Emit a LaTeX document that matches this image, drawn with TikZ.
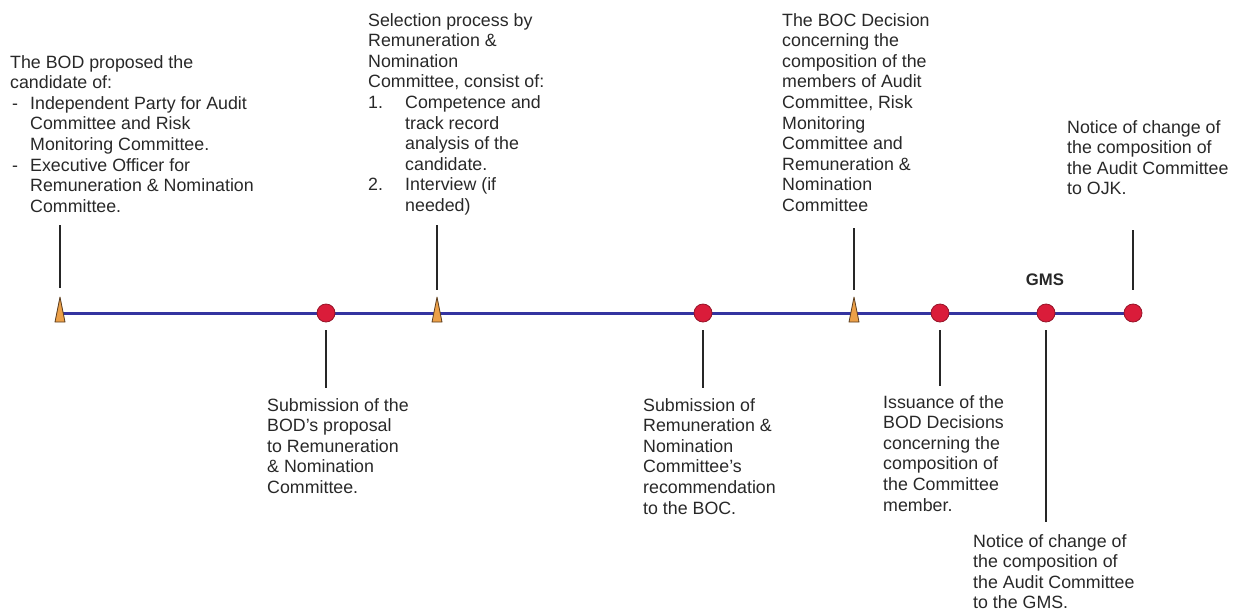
\documentclass[tikz,border=0pt]{standalone}
\usepackage{fontspec}
\setmainfont{Liberation Sans}
\usetikzlibrary{positioning}
\definecolor{cLine}{RGB}{52,52,160}
\definecolor{cText}{RGB}{40,40,40}
\definecolor{cDot}{RGB}{218,28,58}
\definecolor{cDotB}{RGB}{150,20,40}
\definecolor{cTri}{RGB}{236,160,72}
\definecolor{cTriB}{RGB}{90,60,30}
\newcommand\notefont{\fontsize{17.8}{20.6}\selectfont}
\newcommand\notelines[1]{\begin{tabular}[t]{@{}l@{}}#1\end{tabular}}

\begin{document}
\begin{tikzpicture}[x=1pt, y=-1pt,
    note/.style={anchor=base west, inner sep=0pt, font=\notefont, text=cText},
    dot/.style={circle, fill=cDot, draw=cDotB, line width=0.8pt, minimum size=18pt, inner sep=0pt},
    tri/.style={fill=cTri, draw=cTriB, line width=0.8pt, line join=round},
    tick/.style={draw=black!85, line width=1.4pt},
    timeline/.style={draw=cLine, line width=3pt}]

    \useasboundingbox (0,0) rectangle (1246,614);

    % Points on the timeline
    \coordinate (p1) at (60,313);
    \coordinate (p2) at (326,313);
    \coordinate (p3) at (437,313);
    \coordinate (p4) at (703,313);
    \coordinate (p5) at (854,313);
    \coordinate (p6) at (940,313);
    \coordinate (p7) at (1046,313);
    \coordinate (p8) at (1133,313);

    % Free ends of the ticks
    \coordinate (e1) at (60,225);
    \coordinate (e2) at (326,388);
    \coordinate (e3) at (437,225);
    \coordinate (e4) at (703,388);
    \coordinate (e5) at (854,228);
    \coordinate (e6) at (940,386);
    \coordinate (e7) at (1046,522);
    \coordinate (e8) at (1133,230);

    % Timeline
    \draw[timeline] (p1) -- (p8);

    % Markers
    \draw[tri] (p1) ++(-5,9) -- ++(5,-25) -- ++(5,25) -- cycle;
    \draw[tri] (p3) ++(-5,9) -- ++(5,-25) -- ++(5,25) -- cycle;
    \draw[tri] (p5) ++(-5,9) -- ++(5,-25) -- ++(5,25) -- cycle;
    \node[dot] (m2) at (p2) {};
    \node[dot] (m4) at (p4) {};
    \node[dot] (m6) at (p6) {};
    \node[dot] (m7) at (p7) {};
    \node[dot] (m8) at (p8) {};

    % Ticks
    \draw[tick, shorten >=25pt] (e1) -- (p1);
    \draw[tick, shorten >=23pt] (e3) -- (p3);
    \draw[tick, shorten >=23pt] (e5) -- (p5);
    \draw[tick, shorten >=14pt] (e8) -- (m8);
    \draw[tick, shorten <=8pt] (m2) -- (e2);
    \draw[tick, shorten <=8pt] (m4) -- (e4);
    \draw[tick, shorten <=8pt] (m6) -- (e6);
    \draw[tick, shorten <=8pt] (m7) -- (e7);

    % Texts above the timeline
    \node[note] (bodProposal) at (10,68) {\begin{tabular}[t]{@{}p{20pt}@{}l@{}}
        \multicolumn{2}{@{}l@{}}{The BOD proposed the}\\
        \multicolumn{2}{@{}l@{}}{candidate of:}\\
        \hspace{2pt}- & Independent Party for Audit\\
         & Committee and Risk\\
         & Monitoring Committee.\\
        \hspace{2pt}- & Executive Officer for\\
         & Remuneration \& Nomination\\
         & Committee.
      \end{tabular}};
    \node[note] (selection) at (368,26) {\begin{tabular}[t]{@{}p{37pt}@{}l@{}}
        \multicolumn{2}{@{}l@{}}{Selection process by}\\
        \multicolumn{2}{@{}l@{}}{Remuneration \&}\\
        \multicolumn{2}{@{}l@{}}{Nomination}\\
        \multicolumn{2}{@{}l@{}}{Committee, consist of:}\\
        1. & Competence and\\
         & track record\\
         & analysis of the\\
         & candidate.\\
        2. & Interview (if\\
         & needed)
      \end{tabular}};
    \node[note] (bocDecision) at (782,26) {\notelines{The BOC Decision\\ concerning the\\
        composition of the\\ members of Audit\\ Committee, Risk\\ Monitoring\\
        Committee and\\ Remuneration \&\\ Nomination\\ Committee}};
    \node[note] (noticeOjk) at (1067,133) {\notelines{Notice of change of\\
        the composition of\\ the Audit Committee\\ to OJK.}};
    \node[anchor=base, inner sep=0pt, text=cText, font=\fontsize{16.7}{20}\selectfont\bfseries]
        (gms) at (1045,285) {GMS};

    % Texts below the timeline
    \node[note] (submitBod) at (267,411) {\notelines{Submission of the\\
        BOD's proposal\\ to Remuneration\\ \& Nomination\\ Committee.}};
    \node[note] (submitRnc) at (643,411) {\notelines{Submission of\\
        Remuneration \&\\ Nomination\\ Committee's\\ recommendation\\ to the BOC.}};
    \node[note] (issuance) at (883,408) {\notelines{Issuance of the\\
        BOD Decisions\\ concerning the\\ composition of\\ the Committee\\ member.}};
    \node[note] (noticeGms) at (973,547) {\notelines{Notice of change of\\
        the composition of\\ the Audit Committee\\ to the GMS.}};

\end{tikzpicture}
\end{document}
